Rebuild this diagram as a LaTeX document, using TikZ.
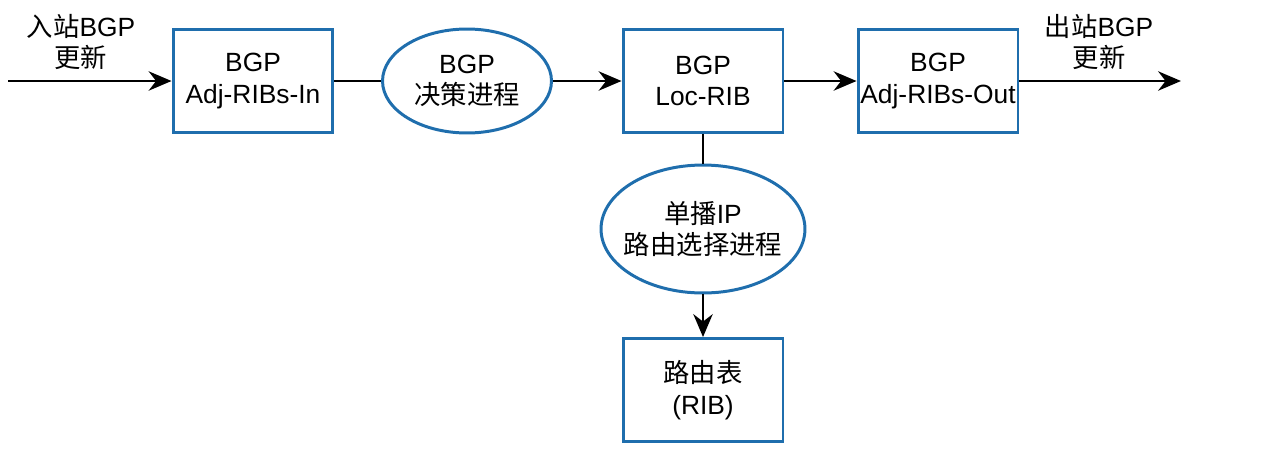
\documentclass[tikz,border=0pt]{standalone}
\usepackage{fontspec}
\setmainfont{Liberation Sans}
\newfontfamily\cjk{Noto Sans CJK SC}
\usetikzlibrary{arrows.meta, shapes.geometric}

\definecolor{ribblue}{RGB}{31,110,173}

\tikzset{
  ribbox/.style={draw=ribblue, line width=1.7pt, minimum width=3.2cm, minimum height=2.06cm,
    inner sep=0pt, align=center, font=\fontsize{15}{18}\selectfont},
  procell/.style={ellipse, draw=ribblue, line width=1.7pt, inner sep=0pt, align=center,
    font=\fontsize{15}{18}\selectfont},
  flowlbl/.style={align=center, font=\fontsize{15}{17.5}\selectfont},
}

\begin{document}
\begin{tikzpicture}[x=0.02cm, y=-0.02cm, >={Stealth[length=13pt, width=11pt]}, line width=1.5pt]
            \useasboundingbox (0,0) rectangle (1270,450);
            % Hàng trên
            \node[ribbox] (adjin) at (253,81) {BGP\\Adj-RIBs-In};
            \node[procell, minimum width=3.38cm, minimum height=2.08cm] (decide) at (467,81) {BGP\\{\cjk 决策进程}};
            \node[ribbox] (locrib) at (703,81) {BGP\\Loc-RIB};
            \node[ribbox] (adjout) at (938,81) {BGP\\Adj-RIBs-Out};
            
            % Nhánh dưới
            \node[procell, inner xsep=-5pt, minimum width=4.08cm, minimum height=2.56cm] (unicast) at (703,229) {{\cjk 单播}IP\\{\cjk 路由选择进程}};
            \node[ribbox] (rib) at (703,390) {{\cjk 路由表}\\(RIB)};
            
            % Nhãn vào / ra
            \coordinate (src) at (8,81);
            \coordinate (dst) at (1181,81);
            \node[flowlbl] (inlbl) at (81,42) {{\cjk 入站}BGP\\{\cjk 更新}};
            \node[flowlbl] (outlbl) at (1099,42) {{\cjk 出站}BGP\\{\cjk 更新}};
            
            \draw[->] (src) -- (adjin);
            \draw (adjin) -- (decide);
            \draw[->] (decide) -- (locrib);
            \draw[->] (locrib) -- (adjout);
            \draw[->] (adjout) -- (dst);
            \draw (locrib) -- (unicast);
            \draw[->] (unicast) -- (rib);
        \end{tikzpicture}
\end{document}
